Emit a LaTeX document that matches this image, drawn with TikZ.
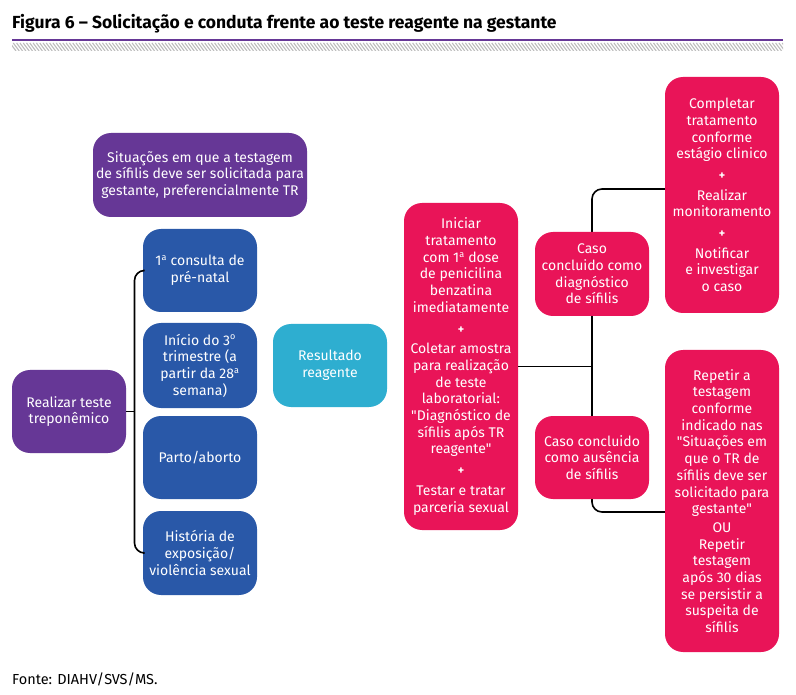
\documentclass[tikz,border=0pt]{standalone}
\usepackage{fontspec}
\setmainfont{Fira Sans}
\definecolor{cpurple}{HTML}{663796}
\definecolor{cblue}{HTML}{2958A8}
\definecolor{ccyan}{HTML}{2EAED0}
\definecolor{cred}{HTML}{E91458}
\definecolor{cstripe}{HTML}{BDBDBD}
\newcommand{\plusline}{\\[4pt]{\bfseries\fontsize{12}{14}\selectfont +}\\[4pt]}
\newcommand{\qq}{\textquotedbl}
\newcommand{\ordsup}[1]{\textsuperscript{\fontsize{9}{9}\selectfont #1}}
\begin{document}
\begin{tikzpicture}[x=1pt,y=-1pt,
  box/.style={rounded corners=18pt, text=white, align=center, inner sep=0pt,
    minimum width=114pt, font=\fontsize{14}{16.7}\selectfont},
  pbox/.style={box, fill=cpurple},
  bbox/.style={box, fill=cblue},
  cbox/.style={box, fill=ccyan},
  rbox/.style={box, fill=cred},
  conn/.style={line width=1.6pt, black, rounded corners=10pt}]
\useasboundingbox (0,0) rectangle (796,695);
\fill[white] (0,0) rectangle (796,695);
% title
\node[anchor=base west, inner sep=0pt, font=\fontsize{17.5}{20}\selectfont\bfseries] (title) at (12,29)
  {Figura 6 – Solicitação e conduta frente ao teste reagente na gestante};
\draw[cpurple, line width=2.4pt] (12,40) -- (783,40);
\begin{scope}
\clip (12,43) rectangle (783,51);
\foreach \i in {0,...,236} {
  \draw[cstripe, line width=1.1pt] ({10+\i*3.3},43) -- ({16+\i*3.3},51);
}
\end{scope}
% coordinates for connectors
\coordinate (xl) at (134.5,0);
\coordinate (xr) at (592,0);
\coordinate (ytop) at (0,189);
\coordinate (ybot) at (0,512);
% left nodes
\node[pbox, minimum width=214pt, minimum height=84pt] (sit) at (200,175)
  {Situações em que a testagem\\de sífilis deve ser solicitada para\\gestante, preferencialmente TR};
\node[bbox, minimum height=83pt] (b1) at (200,270.5) {1\ordsup{a} consulta de\\pré-natal};
\node[bbox, minimum height=85pt] (b2) at (200,365.5) {Início do 3\ordsup{o}\\trimestre (a\\partir da 28\ordsup{a}\\semana)};
\node[bbox, minimum height=83pt] (b3) at (200,457.5) {Parto/aborto};
\node[bbox, minimum height=84pt] (b4) at (200,553) {História de\\exposição/\\violência sexual};
\node[pbox, minimum height=83pt] (real) at (69,411.5) {Realizar teste\\treponêmico};
\node[cbox, minimum height=83pt] (res) at (330,365.5) {Resultado\\reagente};
\node[rbox, minimum height=327pt] (ini) at (461,366.5)
  {Iniciar\\tratamento\\com 1\ordsup{a} dose\\de penicilina\\benzatina\\imediatamente\plusline
   Coletar amostra\\para realização\\de teste\\laboratorial:\\\qq Diagnóstico de\\sífilis após TR\\reagente\qq\plusline
   Testar e tratar\\parceria sexual};
\node[rbox, minimum height=236pt] (tr) at (722,195)
  {Completar\\tratamento\\conforme\\estágio clinico\plusline Realizar\\monitoramento\plusline
   Notificar\\e investigar\\o caso};
\node[rbox, minimum height=302pt] (br) at (722,501)
  {Repetir a\\testagem\\conforme\\indicado nas\\\qq Situações em\\que o TR de\\sífilis deve ser\\solicitado para\\gestante\qq\\[2pt]
   OU\\Repetir\\testagem\\após 30 dias\\se persistir a\\suspeita de\\sífilis};
% connectors
\draw[conn] (b1.west) -| (xl |- b4.west) -- (b4.west);
\draw[conn] (real.east) -- (real.east -| xl);
\draw[conn] (tr.west |- ytop) -| (xr |- ybot) -- (br.west |- ybot);
\draw[conn] (ini.east) -- (ini.east -| xr);
% middle case nodes (drawn over the line)
\node[rbox, minimum height=84pt] (cd) at (592,274) {Caso\\concluido como\\diagnóstico\\de sífilis};
\node[rbox, minimum height=83pt] (ca) at (592,457.5) {Caso concluido\\como ausência\\de sífilis};
% source
\node[anchor=base west, inner sep=0pt, font=\fontsize{14.5}{17}\selectfont] (src) at (12,684) {Fonte: DIAHV/SVS/MS.};
\end{tikzpicture}
\end{document}
